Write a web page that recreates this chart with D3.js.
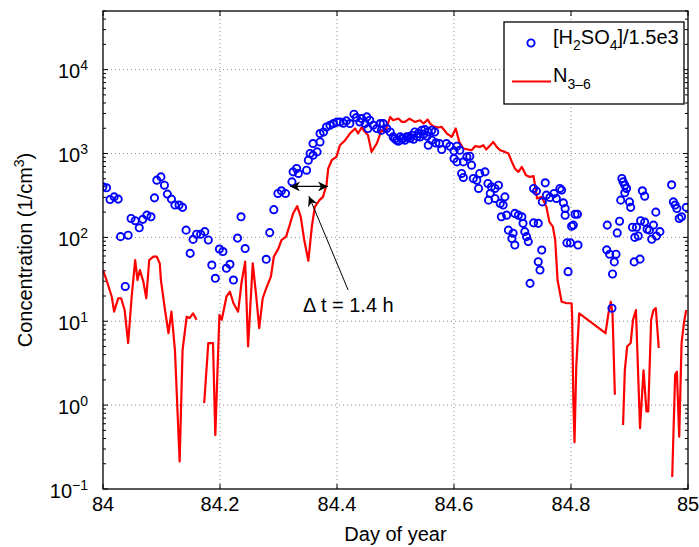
<!DOCTYPE html>
<html><head><meta charset="utf-8">
<script src="https://cdn.jsdelivr.net/npm/d3@7"></script>
<style>
html,body{margin:0;padding:0;background:#fff;}
text{font-family:"Liberation Sans",Arial,Helvetica,sans-serif;fill:#000;}
</style></head><body>
<svg id="chart" width="699" height="547"></svg>
<script>
// ---- data ----
const xTicks = [84, 84.2, 84.4, 84.6, 84.8, 85];
const xTickLabels = ["84", "84.2", "84.4", "84.6", "84.8", "85"];
const yExponents = [-1, 0, 1, 2, 3, 4];
const yTickLabels = ["−1", "0", "1", "2", "3", "4"];

// [H2SO4]/1.5e3 (blue circles)
const h2so4Day = [
84.000,84.006,84.012,84.019,84.026,84.030,84.038,84.043,84.048,84.055,84.062,84.068,84.075,84.082,84.088,84.092,84.099,84.105,84.110,84.117,
84.123,84.130,84.136,84.142,84.149,84.154,84.160,84.167,84.174,84.180,84.186,84.192,84.199,84.205,84.211,84.217,84.223,84.230,84.236,84.243,
84.279,84.285,84.292,84.299,84.305,84.312,84.323,84.325,84.331,84.334,84.348,84.351,84.354,84.359,84.366,84.359,84.371,84.371,84.377,84.382,
84.388,84.394,84.400,84.405,84.411,84.416,84.422,84.429,84.433,84.439,84.442,84.451,84.456,84.448,84.453,84.462,84.468,84.474,84.479,84.476,
84.485,84.491,84.496,84.502,84.508,84.513,84.519,84.511,84.516,84.522,84.528,84.533,84.539,84.545,84.550,84.556,84.562,84.567,84.542,84.554,
84.525,84.531,84.537,84.548,84.505,84.499,
84.556,84.562,84.569,84.575,84.579,84.587,84.593,84.600,84.605,84.610,84.600,84.605,84.616,84.622,84.627,84.630,84.613,84.616,84.633,84.639,
84.644,84.653,84.642,84.658,84.664,84.670,84.676,84.662,84.659,84.670,84.679,84.687,84.684,84.681,84.690,84.704,84.710,84.716,84.693,84.701,
84.699,84.704,84.718,84.721,84.724,84.727,84.730,84.736,84.744,84.750,84.744,84.747,84.736,84.741,84.756,84.758,84.751,84.764,84.771,84.775,
84.781,84.784,84.787,84.790,84.790,84.804,84.801,84.807,84.811,84.812,84.793,84.799,84.795,84.861,84.866,84.877,84.874,84.871,84.862,84.879,
84.883,84.887,84.889,84.892,84.895,84.892,84.885,84.900,84.902,84.905,84.912,84.909,84.915,84.919,84.926,84.930,84.934,84.941,84.938,84.946,
84.952,84.908,84.918,84.922,84.926,84.945,84.972,84.975,84.978,84.981,84.985,84.989,84.997,84.870
];
const h2so4Val = [
400,390,283,304,286,102,26,106,168,158,130,164,184,176,296,481,526,419,328,286,
243,243,228,122,64.5,94.6,109,109,117,93,46.8,32.5,72.6,67.8,42.8,47.7,31,98,176,73.6,
54.8,114,214,334,359,334,459,604,663,578,632,832,1000,955,1045,1315,1374,1730,1807,2073,
2172,2275,2378,2378,2300,2450,2275,2938,2684,2378,2610,2730,2490,2275,1985,2172,1985,2275,2275,1893,
1985,1807,1577,1439,1577,1510,1577,1510,1439,1577,1652,1807,1730,1893,1930,1807,1893,1807,1577,1607,
1520,1480,1600,1700,1400,1500,
1256,1439,1337,1315,1116,1315,1222,1074,1222,1094,871,794,794,912,929,726,578,518,504,481,
578,604,383,439,400,383,419,334,278,291,254,304,243,176,184,193,184,176,122,112,
97,81,147,117,102,89,28.3,149,147,70.6,51.3,40.8,383,356,447,319,265,299,334,291,
383,366,258,184,221,140,136,189,189,81,86,86,39,71,63,63,51,36.6,140,113,
156,504,459,419,383,340,278,265,228,132,132,100,104,158,152,125,122,140,95,104,
117,51,55,359,310,200,423,265,243,221,168,176,228,14.3
];

// N3-6 (red line); null = gap in record
const n36Day = [
84.000,84.006,84.015,84.019,84.026,84.031,84.037,84.043,84.049,84.055,84.059,84.063,84.069,84.074,84.079,84.086,84.092,84.097,84.099,84.106,
84.112,84.117,84.123,84.131,84.136,84.143,84.148,84.154,84.160,84.166,
84.173,84.180,84.188,84.192,84.199,84.203,84.211,84.217,84.223,84.231,84.237,84.243,84.248,84.256,84.262,84.267,84.273,84.280,84.287,84.292,
84.300,84.305,84.313,84.320,84.325,84.332,84.338,84.344,84.351,84.357,84.362,84.370,84.376,84.382,84.385,84.391,84.399,84.405,84.414,84.422,
84.431,84.436,84.442,84.448,84.453,84.459,84.468,84.476,84.482,84.491,84.496,84.505,84.511,84.516,84.524,84.533,84.542,84.548,84.555,84.559,
84.565,84.573,84.579,84.588,84.596,84.603,84.609,84.616,84.624,84.630,84.636,84.644,84.650,84.655,84.662,84.667,84.673,84.679,84.687,84.693,
84.699,84.704,84.710,84.716,84.723,84.730,84.736,84.738,84.742,84.750,84.758,84.763,84.769,84.773,84.777,84.784,84.793,84.801,84.802,84.804,
84.806,84.809,84.814,84.859,84.864,84.868,84.871,84.875,84.882,
84.889,84.892,84.896,84.902,84.906,84.911,84.918,84.924,84.929,84.932,84.937,84.941,84.945,84.950,84.962,
84.973,84.978,84.981,84.985,84.989,84.993,84.997
];
const n36Val = [
40.8,31,19.6,13,18.8,18.8,13.6,5.5,19.6,53.7,31,40.8,29.6,18.8,53.7,58.8,58.8,49,31,13.6,
7.2,13,4.5,0.213,4.5,11.3,10.9,12.4,10.4,null,
1.06,5.5,5.5,0.44,11.9,10.4,19.6,22.5,16.4,13,29.6,51.3,5,49,19.6,8.3,18.8,25.8,34,58.8,
74,93,102,147,193,236,176,93,52.6,134,231,278,304,419,663,832,912,1256,1439,1730,
1985,1730,2040,1807,1652,1045,1315,1893,1807,2730,2490,2610,2378,2378,2610,2378,2490,2275,2540,2275,
2113,2040,2073,1730,1577,1985,1374,1148,1116,1094,1222,1199,1256,1116,1256,1374,1199,1094,1045,1000,
794,663,604,692,552,526,537,439,291,304,231,153,134,93,31,17.1,16.4,16.4,11.3,1.16,
0.36,2.9,12.4,7.2,12.4,17.1,12.4,1.33,null,
0.58,2.6,5,5.5,10.4,13.6,0.53,2.6,0.84,0.84,10.4,13.6,14.3,4.8,null,
0.139,2.3,2.5,0.42,5.5,9.5,13.6
];

// annotation
const annotation = {label: "Δ t = 1.4 h", arrowFrom: 84.3197, arrowTo: 84.3846, arrowVal: 405,
  pointerTip: [84.352, 310], pointerTail: [84.419, 23.6], textAt: [84.342, 12.9]};

// ---- chart ----
const L = 103, R = 688, T = 11, B = 489;
const svg = d3.select("#chart");
const x = d3.scaleLinear().domain([84, 85]).range([L, R]);
const y = d3.scaleLog().domain([0.1, 5e4]).range([B, T]);

svg.append("defs").append("clipPath").attr("id", "clip")
  .append("rect").attr("x", L).attr("y", T).attr("width", R - L).attr("height", B - T);

// grid
const gridG = svg.append("g").attr("stroke", "#8c8c8c").attr("stroke-width", 1).attr("stroke-dasharray", "1,3");
xTicks.slice(1, -1).forEach(t => {
  gridG.append("line").attr("x1", x(t)).attr("x2", x(t)).attr("y1", T).attr("y2", B);
});
yExponents.slice(1).forEach(e => {
  gridG.append("line").attr("x1", L).attr("x2", R).attr("y1", y(Math.pow(10, e))).attr("y2", y(Math.pow(10, e)));
});

// ticks (inside, both sides)
const tickG = svg.append("g").attr("stroke", "#000").attr("stroke-width", 1);
xTicks.forEach(t => {
  tickG.append("line").attr("x1", x(t)).attr("x2", x(t)).attr("y1", B).attr("y2", B - 5);
  tickG.append("line").attr("x1", x(t)).attr("x2", x(t)).attr("y1", T).attr("y2", T + 5);
});
y.ticks().forEach(v => {
  const major = Math.abs(Math.log10(v) - Math.round(Math.log10(v))) < 1e-9;
  const len = major ? 5 : 3;
  tickG.append("line").attr("x1", L).attr("x2", L + len).attr("y1", y(v)).attr("y2", y(v));
  tickG.append("line").attr("x1", R).attr("x2", R - len).attr("y1", y(v)).attr("y2", y(v));
});

// N3-6 line
const line = d3.line().defined(d => d[1] != null).x(d => x(d[0])).y(d => y(d[1]));
svg.append("path").attr("clip-path", "url(#clip)")
  .datum(n36Day.map((d, i) => [d, n36Val[i]]))
  .attr("d", line).attr("fill", "none").attr("stroke", "#ff0000").attr("stroke-width", 2.2)
  .attr("stroke-linejoin", "round");

// H2SO4 circles
svg.append("g").attr("clip-path", "url(#clip)").selectAll("circle")
  .data(h2so4Day.map((d, i) => [d, h2so4Val[i]]))
  .join("circle").attr("cx", d => x(d[0])).attr("cy", d => y(d[1])).attr("r", 3.6)
  .attr("fill", "none").attr("stroke", "#0000ff").attr("stroke-width", 1.9);

// frame
svg.append("rect").attr("x", L).attr("y", T).attr("width", R - L).attr("height", B - T)
  .attr("fill", "none").attr("stroke", "#000").attr("stroke-width", 1.3);

// tick labels
xTicks.forEach((t, i) => {
  svg.append("text").attr("x", x(t)).attr("y", 511).attr("text-anchor", "middle")
    .attr("font-size", 20).text(xTickLabels[i]);
});
yExponents.forEach((e, i) => {
  const tx = svg.append("text").attr("x", 88).attr("y", y(Math.pow(10, e)) + 8.5)
    .attr("text-anchor", "end").attr("font-size", 20);
  tx.append("tspan").text("10");
  tx.append("tspan").attr("font-size", 14).attr("dy", -8).text(yTickLabels[i]);
});

// axis titles
svg.append("text").attr("x", (L + R) / 2).attr("y", 541).attr("text-anchor", "middle")
  .attr("font-size", 20).text("Day of year");
const yt = svg.append("text").attr("transform", `translate(32,${(T + B) / 2}) rotate(-90)`)
  .attr("text-anchor", "middle").attr("font-size", 20);
yt.append("tspan").text("Concentration (1/cm");
yt.append("tspan").attr("font-size", 14).attr("dy", -8).text("3");
yt.append("tspan").attr("dy", 8).text(")");

// annotation arrows
const defs = svg.select("defs");
["arrEnd", "arrStart"].forEach((id, k) => {
  defs.append("marker").attr("id", id).attr("viewBox", "0 0 10 10").attr("refX", k ? 0 : 10).attr("refY", 5)
    .attr("markerWidth", 10).attr("markerHeight", 10).attr("markerUnits", "userSpaceOnUse")
    .attr("orient", "auto")
    .append("path").attr("d", k ? "M10,0 L0,5 L10,10 L7,5 Z" : "M0,0 L10,5 L0,10 L3,5 Z").attr("fill", "#000");
});
svg.append("line").attr("x1", x(annotation.arrowFrom)).attr("x2", x(annotation.arrowTo))
  .attr("y1", y(annotation.arrowVal)).attr("y2", y(annotation.arrowVal))
  .attr("stroke", "#000").attr("stroke-width", 1.2)
  .attr("marker-start", "url(#arrStart)").attr("marker-end", "url(#arrEnd)");
svg.append("line").attr("x1", x(annotation.pointerTail[0])).attr("y1", y(annotation.pointerTail[1]))
  .attr("x2", x(annotation.pointerTip[0])).attr("y2", y(annotation.pointerTip[1]))
  .attr("stroke", "#000").attr("stroke-width", 1).attr("marker-end", "url(#arrEnd)");
svg.append("text").attr("x", x(annotation.textAt[0])).attr("y", y(annotation.textAt[1]))
  .attr("font-size", 20).text(annotation.label);

// legend
const lg = svg.append("g");
lg.append("rect").attr("x", 504).attr("y", 22).attr("width", 180).attr("height", 82)
  .attr("fill", "#fff").attr("stroke", "#000").attr("stroke-width", 1.3);
lg.append("circle").attr("cx", 531).attr("cy", 43).attr("r", 3.6)
  .attr("fill", "none").attr("stroke", "#0000ff").attr("stroke-width", 1.9);
const t1 = lg.append("text").attr("x", 553).attr("y", 43.5).attr("font-size", 20);
t1.append("tspan").text("[H");
t1.append("tspan").attr("font-size", 14).attr("dy", 6).text("2");
t1.append("tspan").attr("dy", -6).text("SO");
t1.append("tspan").attr("font-size", 14).attr("dy", 6).text("4");
t1.append("tspan").attr("dy", -6).text("]/1.5e3");
lg.append("line").attr("x1", 512).attr("x2", 551).attr("y1", 81.5).attr("y2", 81.5)
  .attr("stroke", "#ff0000").attr("stroke-width", 2.2);
const t2 = lg.append("text").attr("x", 553).attr("y", 82).attr("font-size", 20);
t2.append("tspan").text("N");
t2.append("tspan").attr("font-size", 14).attr("dy", 7).text("3–6");
</script>
</body></html>
